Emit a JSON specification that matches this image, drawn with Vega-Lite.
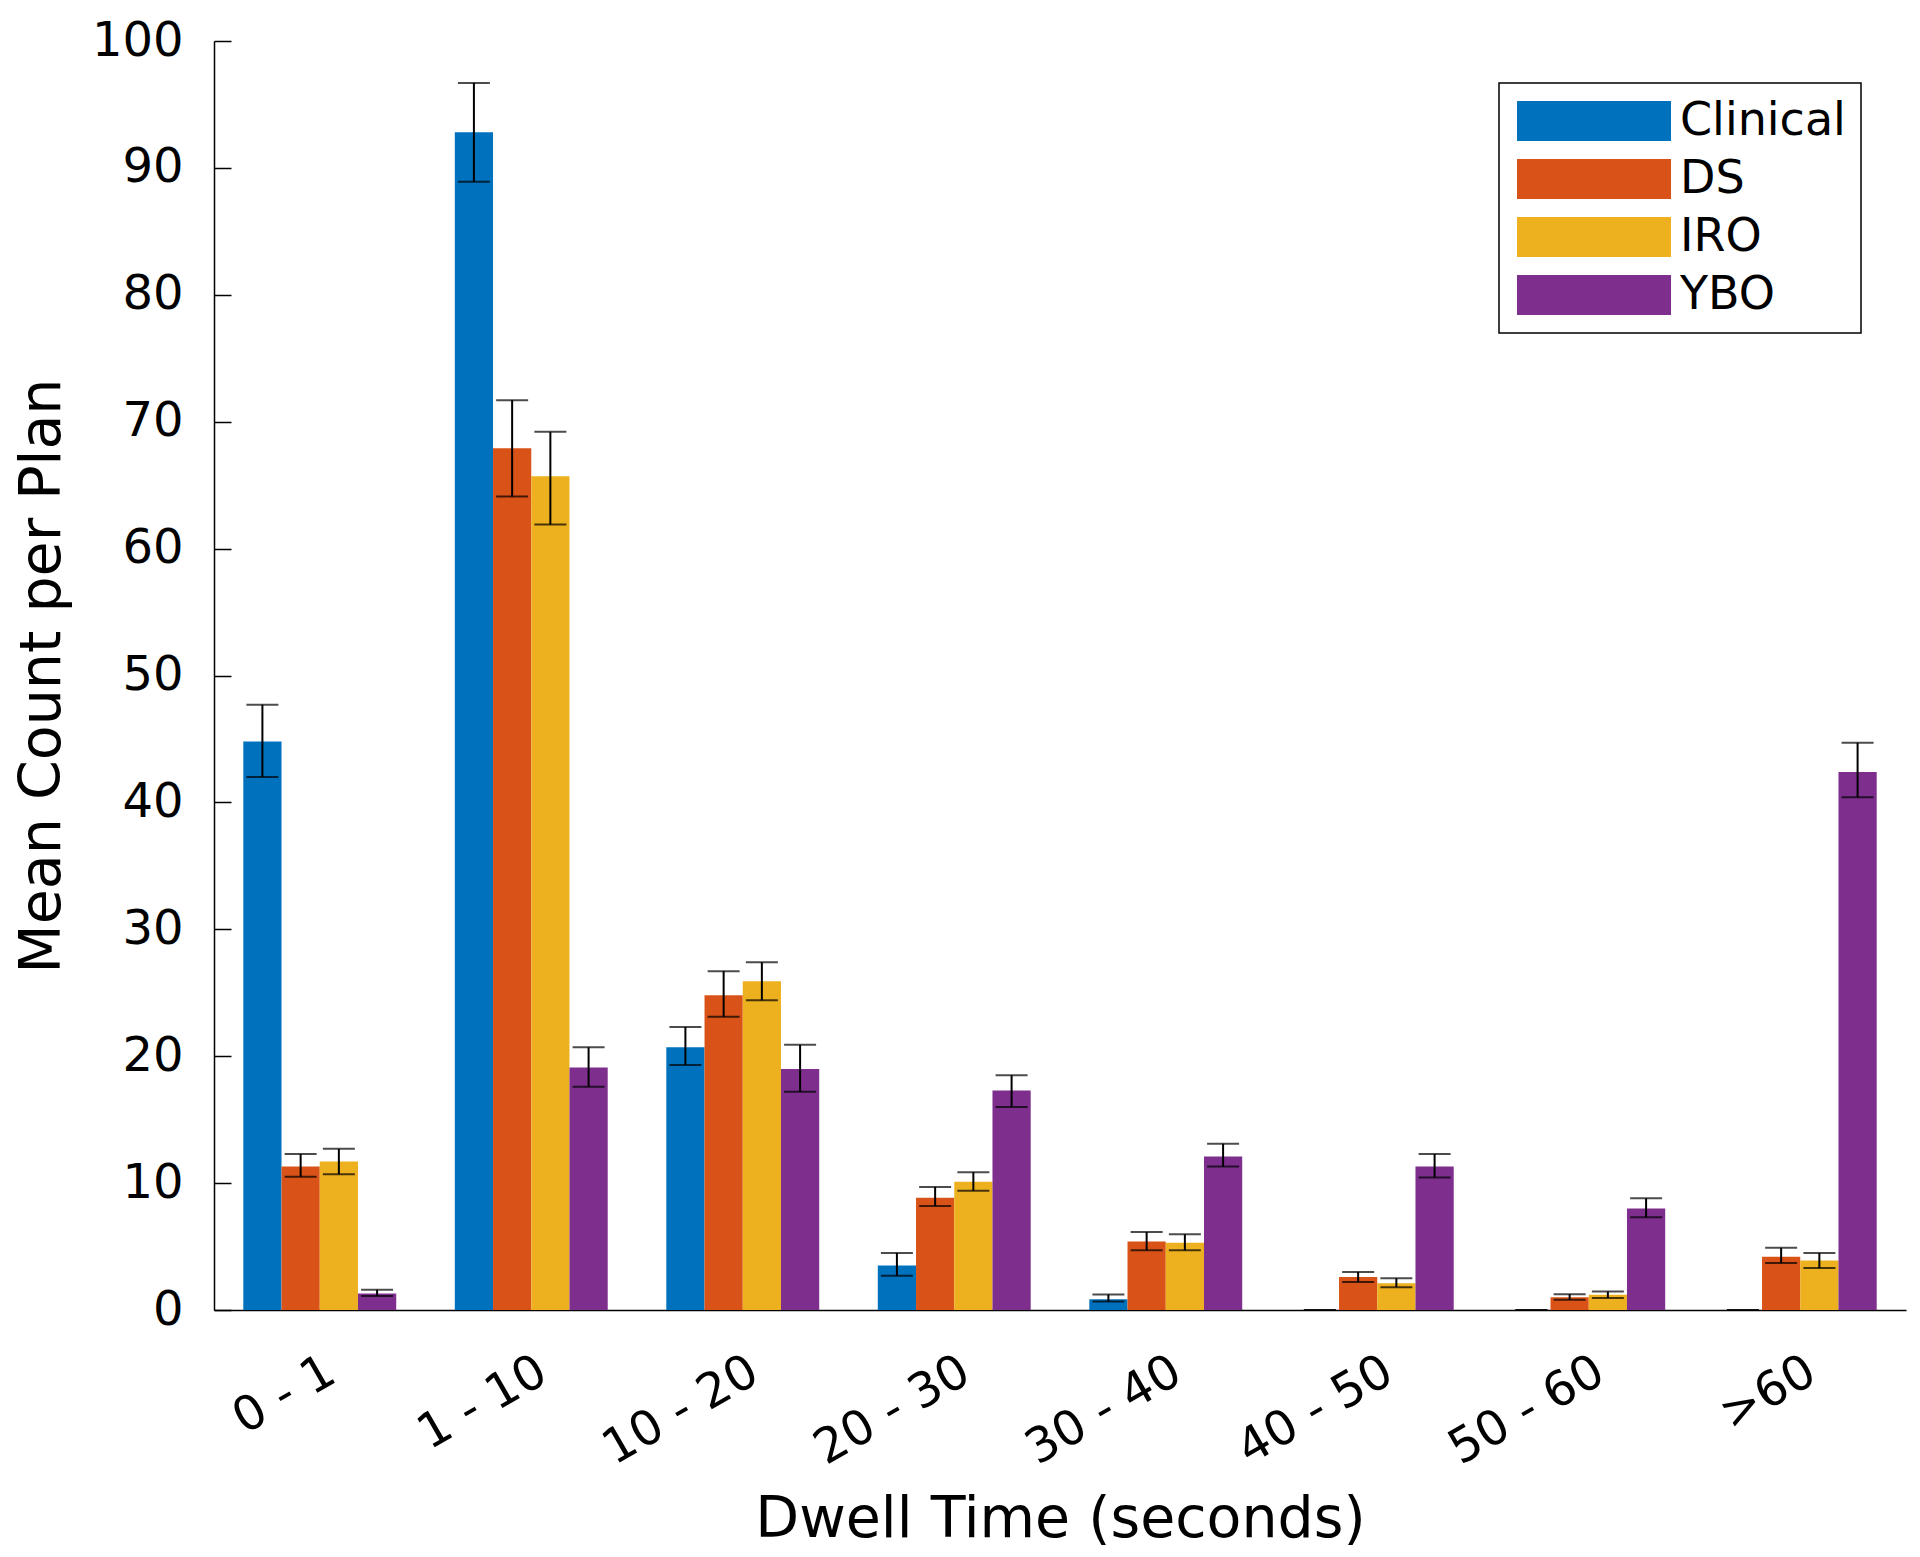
{
  "$schema": "https://vega.github.io/schema/vega-lite/v6.json",
  "width": 1692,
  "height": 1269,
  "autosize": {"type": "none"},
  "padding": {"left": 214, "top": 41, "right": 14, "bottom": 247},
  "background": "white",
  "config": {
    "view": {"stroke": null},
    "font": "DejaVu Sans",
    "axis": {"labelFont": "DejaVu Sans", "titleFont": "DejaVu Sans", "labelColor": "black", "titleColor": "black", "domainColor": "black", "tickColor": "black", "titleFontWeight": "normal", "grid": false}
  },
  "data": {
    "values": [
      {"bin": "0 - 1", "method": "Clinical", "mean": 44.8, "lo": 42.0, "hi": 47.7},
      {"bin": "0 - 1", "method": "DS", "mean": 11.3, "lo": 10.5, "hi": 12.3},
      {"bin": "0 - 1", "method": "IRO", "mean": 11.7, "lo": 10.7, "hi": 12.7},
      {"bin": "0 - 1", "method": "YBO", "mean": 1.3, "lo": 1.1, "hi": 1.6},
      {"bin": "1 - 10", "method": "Clinical", "mean": 92.8, "lo": 88.9, "hi": 96.7},
      {"bin": "1 - 10", "method": "DS", "mean": 67.9, "lo": 64.1, "hi": 71.7},
      {"bin": "1 - 10", "method": "IRO", "mean": 65.7, "lo": 61.9, "hi": 69.2},
      {"bin": "1 - 10", "method": "YBO", "mean": 19.1, "lo": 17.6, "hi": 20.7},
      {"bin": "10 - 20", "method": "Clinical", "mean": 20.7, "lo": 19.3, "hi": 22.3},
      {"bin": "10 - 20", "method": "DS", "mean": 24.8, "lo": 23.1, "hi": 26.7},
      {"bin": "10 - 20", "method": "IRO", "mean": 25.9, "lo": 24.4, "hi": 27.4},
      {"bin": "10 - 20", "method": "YBO", "mean": 19.0, "lo": 17.2, "hi": 20.9},
      {"bin": "20 - 30", "method": "Clinical", "mean": 3.5, "lo": 2.7, "hi": 4.5},
      {"bin": "20 - 30", "method": "DS", "mean": 8.85, "lo": 8.2, "hi": 9.7},
      {"bin": "20 - 30", "method": "IRO", "mean": 10.1, "lo": 9.4, "hi": 10.85},
      {"bin": "20 - 30", "method": "YBO", "mean": 17.3, "lo": 16.0, "hi": 18.5},
      {"bin": "30 - 40", "method": "Clinical", "mean": 0.84, "lo": 0.66, "hi": 1.23},
      {"bin": "30 - 40", "method": "DS", "mean": 5.4, "lo": 4.7, "hi": 6.15},
      {"bin": "30 - 40", "method": "IRO", "mean": 5.3, "lo": 4.7, "hi": 5.96},
      {"bin": "30 - 40", "method": "YBO", "mean": 12.1, "lo": 11.3, "hi": 13.1},
      {"bin": "40 - 50", "method": "Clinical", "mean": 0, "lo": 0, "hi": 0},
      {"bin": "40 - 50", "method": "DS", "mean": 2.6, "lo": 2.2, "hi": 3.0},
      {"bin": "40 - 50", "method": "IRO", "mean": 2.1, "lo": 1.8, "hi": 2.5},
      {"bin": "40 - 50", "method": "YBO", "mean": 11.3, "lo": 10.45, "hi": 12.3},
      {"bin": "50 - 60", "method": "Clinical", "mean": 0, "lo": 0, "hi": 0},
      {"bin": "50 - 60", "method": "DS", "mean": 1.0, "lo": 0.8, "hi": 1.25},
      {"bin": "50 - 60", "method": "IRO", "mean": 1.2, "lo": 0.95, "hi": 1.45},
      {"bin": "50 - 60", "method": "YBO", "mean": 8.0, "lo": 7.3, "hi": 8.8},
      {"bin": ">60", "method": "Clinical", "mean": 0, "lo": 0, "hi": 0},
      {"bin": ">60", "method": "DS", "mean": 4.2, "lo": 3.7, "hi": 4.9},
      {"bin": ">60", "method": "IRO", "mean": 3.9, "lo": 3.3, "hi": 4.5},
      {"bin": ">60", "method": "YBO", "mean": 42.4, "lo": 40.4, "hi": 44.7}
    ]
  },
  "encoding": {
    "x": {
      "field": "bin", "type": "nominal",
      "sort": ["0 - 1", "1 - 10", "10 - 20", "20 - 30", "30 - 40", "40 - 50", "50 - 60", ">60"],
      "scale": {"paddingInner": 0.277, "paddingOuter": 0.1385},
      "axis": {"title": "Dwell Time (seconds)", "labelAngle": -30, "labelFontSize": 48, "titleFontSize": 57, "ticks": false, "labelPadding": 37, "titlePadding": 18, "domainWidth": 1.5}
    },
    "xOffset": {"field": "method", "type": "nominal", "sort": ["Clinical", "DS", "IRO", "YBO"], "scale": {"paddingInner": 0, "paddingOuter": 0}}
  },
  "layer": [
    {
      "mark": {"type": "bar"},
      "encoding": {
        "y": {"field": "mean", "type": "quantitative", "scale": {"domain": [0, 100], "nice": false},
          "axis": {"title": "Mean Count per Plan", "values": [0,10,20,30,40,50,60,70,80,90,100], "labelFontSize": 48, "titleFontSize": 57, "tickSize": -17, "labelPadding": 48, "titlePadding": 20, "domainWidth": 1.5, "tickWidth": 1.5}},
        "color": {"field": "method", "type": "nominal", "sort": ["Clinical", "DS", "IRO", "YBO"],
          "scale": {"domain": ["Clinical", "DS", "IRO", "YBO"], "range": ["#0072BD", "#D95319", "#EDB120", "#7E2F8E"]},
          "legend": {
            "title": null, "orient": "none", "legendX": 1285, "legendY": 42,
            "symbolType": "M-1,-1L6.7,-1L6.7,1L-1,1Z", "symbolSize": 1600, "symbolStrokeWidth": 0,
            "labelFontSize": 46, "labelFont": "DejaVu Sans", "labelColor": "black", "labelOffset": 120, "labelLimit": 500,
            "padding": 15, "rowPadding": 12, "strokeColor": "black", "fillColor": "white", "cornerRadius": 0,
            "encode": {"legend": {"update": {"strokeWidth": {"value": 1.5}}}}
          }
        }
      }
    },
    {
      "mark": {"type": "rule", "color": "black", "strokeWidth": 2},
      "encoding": {"y": {"field": "lo", "type": "quantitative"}, "y2": {"field": "hi"}}
    },
    {
      "mark": {"type": "tick", "color": "black", "thickness": 2, "size": 32, "orient": "horizontal"},
      "encoding": {"y": {"field": "lo", "type": "quantitative"}}
    },
    {
      "mark": {"type": "tick", "color": "black", "thickness": 2, "size": 32, "orient": "horizontal"},
      "encoding": {"y": {"field": "hi", "type": "quantitative"}}
    }
  ]
}
